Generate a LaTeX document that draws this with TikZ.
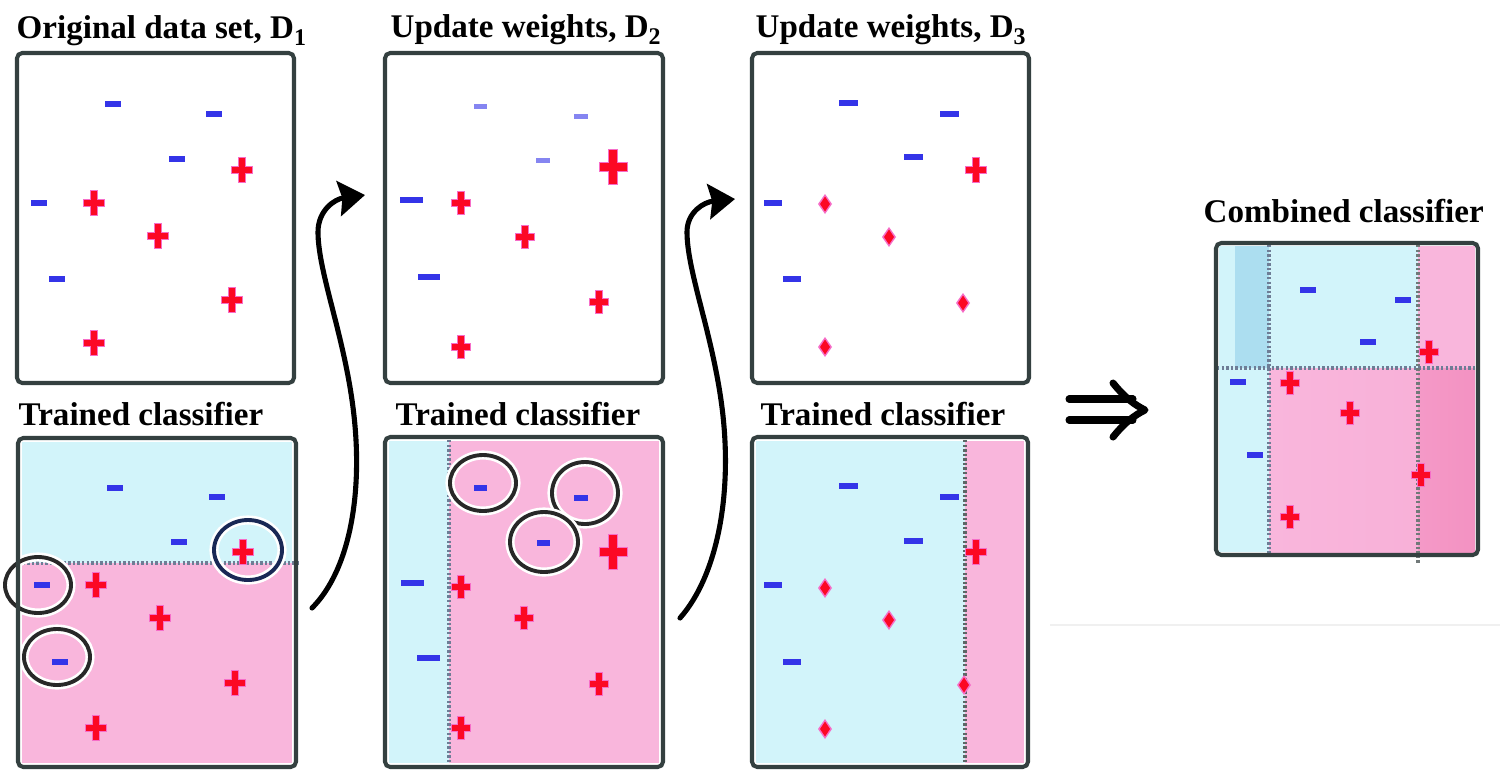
\documentclass[tikz,border=0pt]{standalone}
\usepackage{fontspec}
\setmainfont{Liberation Serif}
\usetikzlibrary{arrows.meta}
\definecolor{lb}{RGB}{210,244,250}
\definecolor{lbd}{RGB}{172,222,240}
\definecolor{pk}{RGB}{249,182,220}
\definecolor{pkd}{RGB}{243,146,194}
\definecolor{mb}{RGB}{52,52,232}
\definecolor{rd}{RGB}{252,8,36}
\definecolor{pm}{RGB}{246,110,200}
\definecolor{bx}{RGB}{52,64,64}
\definecolor{rg}{RGB}{40,40,40}
\definecolor{bl}{RGB}{110,125,150}
\newcommand\sbs[1]{\raisebox{-0.24em}{\fontsize{6.8}{7}\selectfont #1}}
\newcommand\mn[3][16]{\fill[mb] ({#2-#1/2},{#3-3.2}) rectangle ({#2+#1/2},{#3+3.2});}
\newcommand\mnl[3][13]{\fill[mb!60] ({#2-#1/2},{#3-2.5}) rectangle ({#2+#1/2},{#3+2.5});}
\newcommand\pl[3][20]{%
 \fill[pm] ({#2-#1/2-1},{#3-#1*0.16-1}) rectangle ({#2+#1/2+1},{#3+#1*0.16+1});
 \fill[pm] ({#2-#1*0.16-1},{#3-#1*0.62-1}) rectangle ({#2+#1*0.16+1},{#3+#1*0.62+1});
 \fill[rd] ({#2-#1/2},{#3-#1*0.16}) rectangle ({#2+#1/2},{#3+#1*0.16});
 \fill[rd] ({#2-#1*0.16},{#3-#1*0.62}) rectangle ({#2+#1*0.16},{#3+#1*0.62});}
\newcommand\dm[2]{\fill[pm] (#1-7,#2) -- (#1,#2-10) -- (#1+7,#2) -- (#1,#2+10) -- cycle;
 \fill[rd] (#1-5,#2) -- (#1,#2-7.5) -- (#1+5,#2) -- (#1,#2+7.5) -- cycle;}
\tikzset{
 box/.style={draw=bx, line width=1.15pt, rounded corners=1.5pt},
 lbl/.style={anchor=base west, inner sep=0pt, font=\bfseries\fontsize{9.4}{11}\selectfont},
 conn/.style={line width=1.45pt, line cap=round, -{Stealth[length=7.5pt,width=10pt,inset=1pt]}},
 ring/.style={line width=1.1pt, draw=rg},
 halo/.style={line width=2.6pt, draw=white},
 bnd/.style={line width=0.9pt, dash pattern=on 0.7pt off 0.6pt},
 imp/.style={line width=2pt, line cap=round, line join=round},
}
\begin{document}
\begin{tikzpicture}[x=0.01cm,y=-0.01cm]
\useasboundingbox (0,0) rectangle (1500,778);
\fill[white] (0,0) rectangle (1500,778);
\draw[gray!12, line width=0.5pt] (1050,625) -- (1500,625);

% labels
\node[lbl] (t1) at (16,38) {Original data set, D\sbs{1}};
\node[lbl] (t2) at (390,37) {Update weights, D\sbs{2}};
\node[lbl] (t3) at (755,37) {Update weights, D\sbs{3}};
\node[lbl] (c1) at (18,425) {Trained classifier};
\node[lbl] (c2) at (395,425) {Trained classifier};
\node[lbl] (c3) at (760,425) {Trained classifier};
\node[lbl] (cc) at (1203,222) {Combined classifier};

% ---------- Panel 1 top
\draw[box] (17,53) rectangle (294,383);
\mn{113}{104} \mn{214}{114} \mn{177}{159} \mn{39}{203} \mn{57}{279}
\pl{242}{170} \pl{94}{203} \pl{158}{236} \pl{232}{300} \pl{94}{343}

% ---------- Panel 1 bottom
\fill[lb] (22,442) rectangle (292,563);
\fill[pk] (22,563) rectangle (292,763);
\draw[bnd, bl] (18,563) -- (301,563);
\mn{115}{488} \mn{217}{497} \mn{179}{542} \mn{42}{585} \mn{60}{662}
\pl{243}{552} \pl{96}{585} \pl{160}{618} \pl{235}{683} \pl{96}{728}
\draw[halo] (248,550) ellipse [x radius=34, y radius=30];
\draw[ring, draw={rgb,255:red,25;green,40;blue,85}] (248,550) ellipse [x radius=34, y radius=30];
\draw[halo] (38,585) ellipse [x radius=33, y radius=28];
\draw[ring] (38,585) ellipse [x radius=33, y radius=28];
\draw[halo] (57,657) ellipse [x radius=33, y radius=28];
\draw[ring] (57,657) ellipse [x radius=33, y radius=28];
\draw[box] (18,438) rectangle (296,767);

% ---------- Panel 2 top
\draw[box] (385,53) rectangle (663,383);
\mnl{480}{106} \mnl[14]{581}{116} \mnl[14]{543}{160} \mn[23]{411}{200} \mn[22]{429}{277}
\pl[27]{613}{167} \pl[18]{461}{203} \pl[18]{525}{237} \pl[18]{599}{302} \pl[18]{461}{347}

% ---------- Panel 2 bottom
\fill[lb] (389,441) rectangle (449,763);
\fill[pk] (449,441) rectangle (659,763);
\draw[bnd, bl] (449,440) -- (449,765);
\mn[13]{480}{488} \mn[14]{581}{498} \mn[13]{543}{543} \mn[23]{412}{583} \mn[23]{428}{658}
\pl[27]{613}{552} \pl[18]{461}{587} \pl[18]{524}{618} \pl[18]{599}{684} \pl[18]{461}{728}
\draw[halo] (483,483) ellipse [x radius=33, y radius=28];
\draw[ring] (483,483) ellipse [x radius=33, y radius=28];
\draw[halo] (585,493) ellipse [x radius=33, y radius=31];
\draw[ring] (585,493) ellipse [x radius=33, y radius=31];
\draw[halo] (544,542) ellipse [x radius=34, y radius=30];
\draw[ring] (544,542) ellipse [x radius=34, y radius=30];
\draw[box] (385,437) rectangle (663,767);

% ---------- Panel 3 top
\draw[box] (752,53) rectangle (1029,383);
\mn[19]{848}{103} \mn[19]{949}{114} \mn[19]{913}{157} \mn[18]{773}{203} \mn[18]{792}{279}
\pl{976}{170} \dm{825}{204} \dm{889}{237} \dm{963}{303} \dm{825}{347}

% ---------- Panel 3 bottom
\fill[lb] (756,441) rectangle (965,763);
\fill[pk] (965,441) rectangle (1024,763);
\draw[bnd, bx!80] (965,440) -- (965,765);
\mn[19]{848}{486} \mn[19]{949}{497} \mn[19]{913}{541} \mn[18]{773}{585} \mn[18]{792}{662}
\pl{976}{552} \dm{825}{588} \dm{889}{620} \dm{964}{685} \dm{825}{729}
\draw[box] (752,437) rectangle (1028,767);

% ---------- Combined
\fill[lb] (1219,246) rectangle (1269,552);
\fill[lbd] (1235,246) rectangle (1269,368);
\fill[lb] (1269,246) rectangle (1418,368);
\fill[pk] (1418,246) rectangle (1475,368);
\shade[left color=pk, right color=pk!85!pkd] (1269,368) rectangle (1418,552);
\shade[left color=pkd!80!pk, right color=pkd] (1418,368) rectangle (1475,552);
\draw[bnd, bl] (1269,245) -- (1269,553);
\draw[bnd, bl, line width=1.1pt] (1217,368) -- (1477,368);
\draw[bnd, bx!70] (1418,245) -- (1418,565);
\mn{1308}{290} \mn{1403}{300} \mn{1368}{342} \mn{1238}{382} \mn{1255}{455}
\pl[18]{1429}{352} \pl[18]{1290}{383} \pl[18]{1350}{413} \pl[18]{1421}{475} \pl[18]{1290}{517}
\draw[box] (1216,243) rectangle (1478,555);

% ---------- arrows
\coordinate (a1s) at (312,608);
\coordinate (a1e) at (365,195);
\draw[conn] (a1s) .. controls (350,570) and (365,490) .. (352,400)
  .. controls (342,330) and (318,270) .. (318,232)
  .. controls (318,210) and (335,199) .. (a1e);
\coordinate (a2s) at (680,618);
\coordinate (a2e) at (735,199);
\draw[conn] (a2s) .. controls (718,575) and (734,490) .. (721,400)
  .. controls (711,330) and (687,270) .. (687,232)
  .. controls (687,212) and (704,202) .. (a2e);

% double arrow
\coordinate (ia) at (1069,399);
\coordinate (ib) at (1069,420);
\coordinate (it) at (1145,410);
\draw[imp] (ia) -- (1133,399);
\draw[imp] (ib) -- (1133,420);
\draw[imp] (1113,383) .. controls (1125,398) and (1135,405) .. (it)
  .. controls (1135,415) and (1125,422) .. (1113,437);
\end{tikzpicture}
\end{document}
